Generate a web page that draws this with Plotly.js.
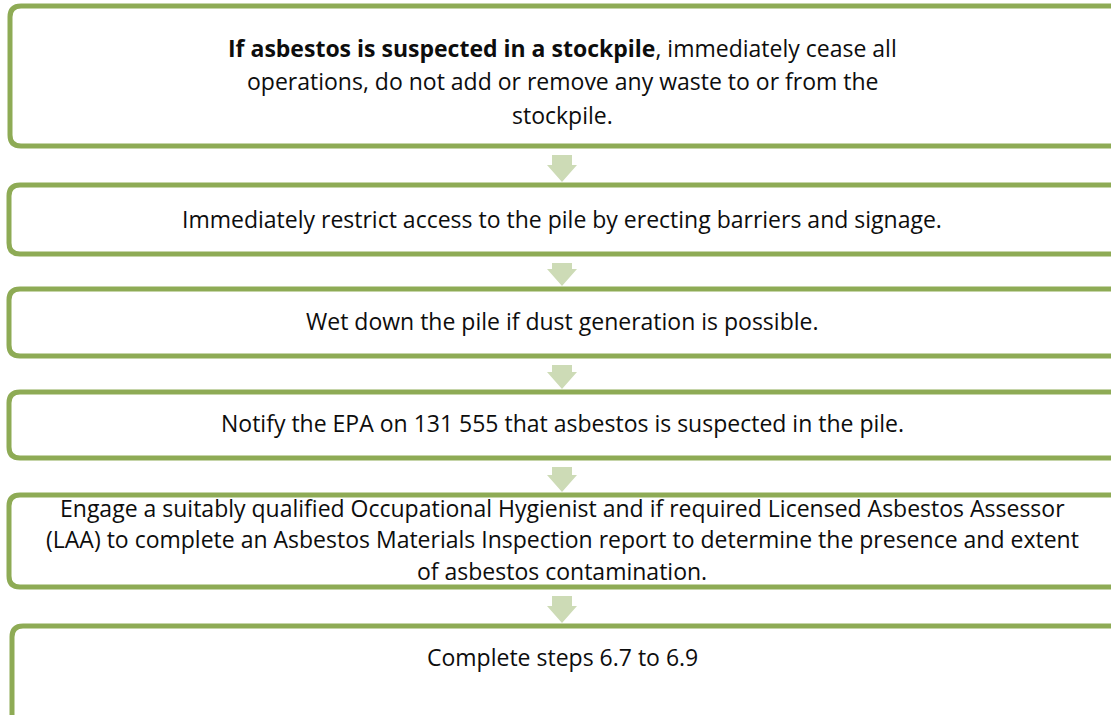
<!DOCTYPE html>
<html>
<head>
<meta charset="utf-8">
<script src="https://cdn.plot.ly/plotly-3.0.1.min.js"></script>
<style>html,body{margin:0;padding:0;background:#fff;}#chart{width:1111px;height:715px;}</style>
</head>
<body>
<div id="chart"></div>
<script>
// Flowchart step texts (one array of lines per step)
const stepLines = [
  ["<b>If asbestos is suspected in a stockpile</b>, immediately cease all", "operations, do not add or remove any waste to or from the", "stockpile."],
  ["Immediately restrict access to the pile by erecting barriers and signage."],
  ["Wet down the pile if dust generation is possible."],
  ["Notify the EPA on 131 555 that asbestos is suspected in the pile."],
  ["Engage a suitably qualified Occupational Hygienist and if required Licensed Asbestos Assessor", "(LAA) to complete an Asbestos Materials Inspection report to determine the presence and extent", "of asbestos contamination."],
  ["Complete steps 6.7 to 6.9"]
];

// Layout geometry (pixels)
const boxTop    = [6, 185, 289, 392, 495, 626];
const boxBottom = [146, 254, 356, 458, 587, 760];
const boxLeft   = [10, 9, 9, 9, 9, 12];
const boxRight  = 1126;
const lineYs    = [[48, 81, 115], [219], [321], [423], [508, 539, 571], [657]];
const centerX   = 562;

const GREEN = '#8eab55';
const ARROW = '#cddbb6';
const R = 11;

function roundRect(x0, y0, x1, y1, r) {
  return `M${x0 + r},${y0} L${x1 - r},${y0} Q${x1},${y0} ${x1},${y0 + r} L${x1},${y1 - r} Q${x1},${y1} ${x1 - r},${y1} L${x0 + r},${y1} Q${x0},${y1} ${x0},${y1 - r} L${x0},${y0 + r} Q${x0},${y0} ${x0 + r},${y0} Z`;
}
function arrowPath(cx, top, tip) {
  const sw = 10, hw = 15, hl = 17;
  const hy = tip - hl;
  return `M${cx - sw},${top} L${cx + sw},${top} L${cx + sw},${hy} L${cx + hw},${hy} L${cx},${tip} L${cx - hw},${hy} L${cx - sw},${hy} Z`;
}

const shapes = [];
const annotations = [];
for (let i = 0; i < stepLines.length; i++) {
  shapes.push({type: 'path', xref: 'x', yref: 'y', path: roundRect(boxLeft[i], boxTop[i], boxRight, boxBottom[i], R),
    line: {color: GREEN, width: 5}, fillcolor: 'rgba(0,0,0,0)'});
  if (i < stepLines.length - 1) {
    shapes.push({type: 'path', xref: 'x', yref: 'y', path: arrowPath(centerX, boxBottom[i] + 9, boxTop[i + 1] - 3),
      line: {width: 0}, fillcolor: ARROW});
  }
  stepLines[i].forEach((t, j) => {
    annotations.push({x: centerX, y: lineYs[i][j], xref: 'x', yref: 'y', text: t, showarrow: false,
      xanchor: 'center', yanchor: 'middle', font: {family: '"Open Sans", Lato, sans-serif', size: 23, color: '#0d0d0d'}});
  });
}

const layout = {
  width: 1111, height: 715,
  margin: {l: 0, r: 0, t: 0, b: 0},
  paper_bgcolor: '#ffffff', plot_bgcolor: '#ffffff',
  xaxis: {range: [0, 1111], visible: false, fixedrange: true},
  yaxis: {range: [715, 0], visible: false, fixedrange: true},
  shapes: shapes, annotations: annotations, showlegend: false
};
Plotly.newPlot('chart', [], layout, {staticPlot: true, displayModeBar: false});
</script>
</body>
</html>
